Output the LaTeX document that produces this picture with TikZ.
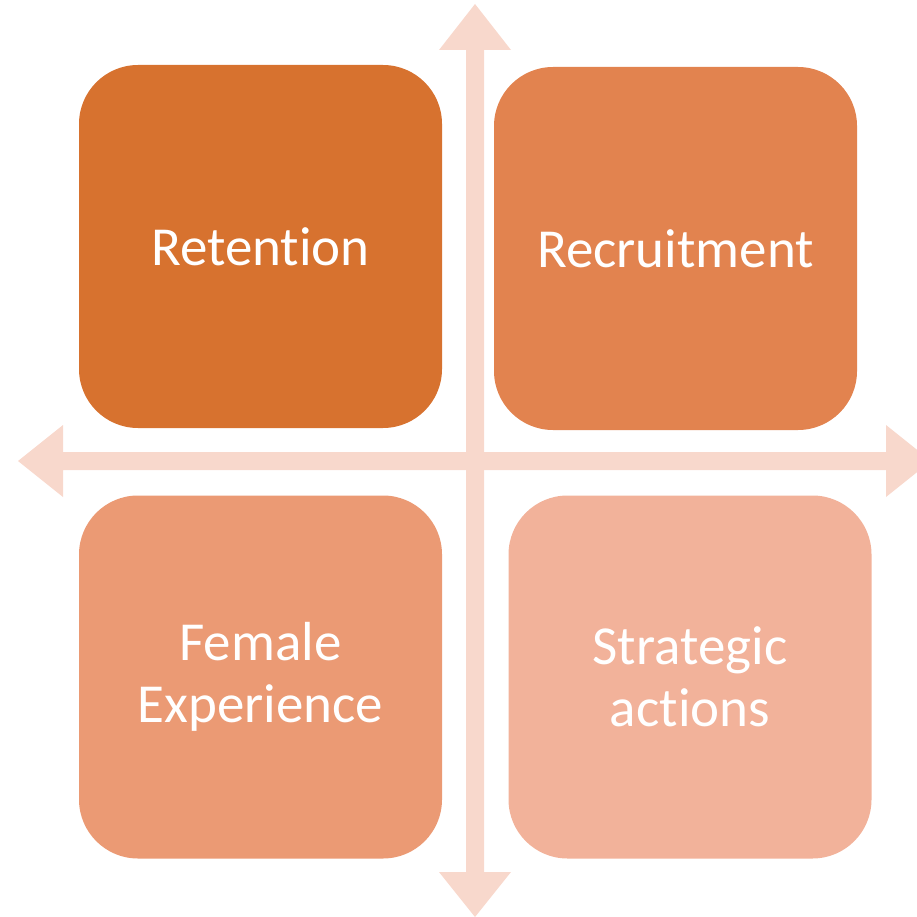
\documentclass[tikz,border=0pt]{standalone}
\usepackage{fontspec}
\setmainfont{Carlito}[Ligatures={NoCommon,NoRare}]
% keep t and i as separate glyphs
\newcommand{\tI}{t\kern0pt i}
\definecolor{axiscol}{HTML}{F8D8CC}
\definecolor{boxA}{HTML}{D7722F}
\definecolor{boxB}{HTML}{E2834F}
\definecolor{boxC}{HTML}{EB9A74}
\definecolor{boxD}{HTML}{F2B29A}
\tikzset{
  quad/.style={rounded corners=59pt, minimum width=363pt, minimum height=363pt,
    inner sep=0pt, text=white, align=center,
    font=\fontsize{55pt}{62pt}\selectfont},
  axis/.style={fill=axiscol, draw=none}
}
\begin{document}
\begin{tikzpicture}[x=1pt,y=-1pt]
\useasboundingbox (0,0) rectangle (917,917);
\clip (0,0) rectangle (917,917);
% quadrant boxes
\node[quad, fill=boxA] (ret) at (260.5,246.5) {Reten\tI on};
\node[quad, fill=boxB] (rec) at (675.5,248.5) {Recruitment};
\node[quad, fill=boxC] (fem) at (260.5,677) {Female\\Experience};
\node[quad, fill=boxD] (str) at (690,677) {Strategic\\ac\tI ons};
% centre of the cross
\coordinate (o) at (475,461);
% vertical double arrow
\fill[axis] (466,50) -- (439,50) -- (475,4) -- (511,50) -- (484,50)
  -- (484,872) -- (511,872) -- (475,917) -- (439,872) -- (466,872) -- cycle;
% horizontal double arrow
\fill[axis] (63,452) -- (63,425) -- (18,461) -- (63,497) -- (63,470)
  -- (886,470) -- (886,497) -- (931,461) -- (886,425) -- (886,452) -- cycle;
\end{tikzpicture}
\end{document}
